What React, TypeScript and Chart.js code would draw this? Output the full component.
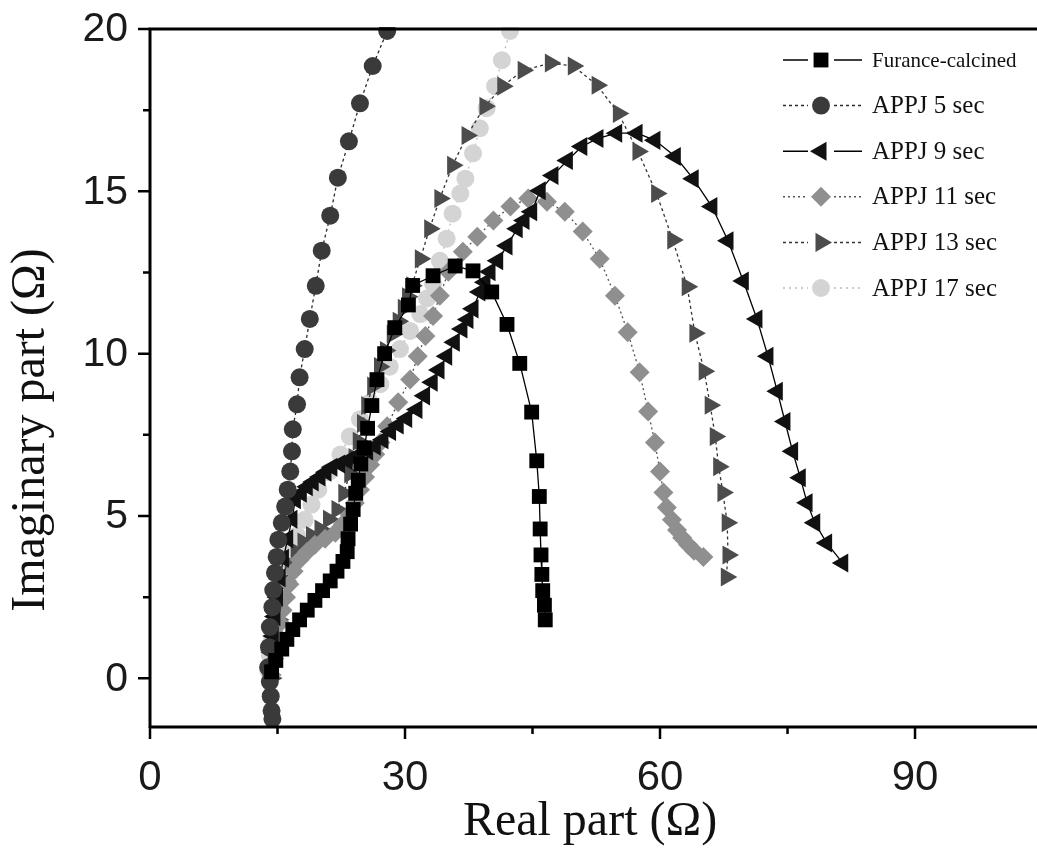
import React, { useEffect, useRef } from 'react';
import { Chart, registerables } from 'chart.js';

Chart.register(...registerables);

const xTickValues = [0, 30, 60, 90];
const xMinorValues = [15, 45, 75];
const yTickValues = [0, 5, 10, 15, 20];
const yMinorValues = [2.5, 7.5, 12.5, 17.5];

const seriesNames = ['Furance-calcined', 'APPJ 5 sec', 'APPJ 9 sec', 'APPJ 11 sec', 'APPJ 13 sec', 'APPJ 17 sec'];
const xTitle = 'Real part (Ω)';
const yTitle = 'Imaginary part (Ω)';

const furnaceRe = [14.3, 14.8, 15.5, 16.1, 16.8, 17.6, 18.5, 19.4, 20.3, 21.2, 22.0, 22.7, 23.2, 23.3, 23.6, 23.9, 24.2, 24.5, 24.8, 25.2, 25.6, 26.1, 26.7, 27.6, 28.8, 30.4, 30.9, 33.3, 35.9, 38.0, 40.2, 42.0, 43.5, 44.9, 45.5, 45.8, 45.9, 46.0, 46.1, 46.2, 46.4, 46.5];
const furnaceIm = [0.2, 0.55, 0.9, 1.2, 1.5, 1.8, 2.1, 2.4, 2.7, 3.0, 3.3, 3.6, 3.9, 4.3, 4.75, 5.2, 5.7, 6.1, 6.6, 7.1, 7.7, 8.4, 9.2, 10.0, 10.8, 11.5, 12.1, 12.4, 12.7, 12.55, 11.9, 10.9, 9.7, 8.2, 6.7, 5.6, 4.6, 3.8, 3.2, 2.7, 2.25, 1.8];

const appj5Re = [14.4, 14.3, 14.2, 14.1, 13.9, 14.0, 14.1, 14.4, 14.5, 14.7, 14.9, 15.1, 15.5, 15.9, 16.2, 16.5, 16.7, 16.8, 17.3, 17.6, 18.2, 18.8, 19.5, 20.2, 21.2, 22.1, 23.4, 24.7, 26.2, 27.9, 29.6];
const appj5Im = [-1.25, -1.0, -0.55, -0.1, 0.34, 0.96, 1.58, 2.19, 2.72, 3.25, 3.74, 4.27, 4.79, 5.29, 5.81, 6.37, 6.99, 7.67, 8.44, 9.27, 10.14, 11.07, 12.09, 13.17, 14.25, 15.42, 16.54, 17.71, 18.86, 19.94, 21.0];

const appj9Re = [14.2, 14.3, 14.5, 14.7, 15.0, 15.3, 15.7, 16.2, 16.7, 17.1, 17.8, 18.5, 19.2, 20.0, 20.7, 21.4, 22.3, 23.2, 24.0, 24.7, 25.6, 26.5, 27.4, 28.3, 29.2, 30.2, 31.4, 32.3, 33.2, 34.0, 34.9, 35.8, 36.7, 37.4, 38.0, 38.8, 39.4, 40.0, 40.9, 42.0, 43.2, 44.0, 44.9, 45.9, 47.4, 49.1, 50.8, 52.7, 54.9, 57.3, 59.4, 61.8, 63.9, 66.1, 68.0, 69.8, 71.4, 72.7, 73.8, 74.7, 75.6, 76.5, 77.3, 78.2, 79.6, 81.5];
const appj9Im = [0.3, 0.8, 1.3, 1.9, 2.5, 3.1, 3.7, 4.3, 4.9, 5.5, 5.7, 5.9, 6.05, 6.2, 6.35, 6.5, 6.6, 6.7, 6.8, 6.9, 7.0, 7.15, 7.35, 7.6, 7.8, 8.0, 8.28, 8.7, 9.12, 9.5, 9.92, 10.35, 10.76, 11.05, 11.38, 11.9, 12.2, 12.52, 12.86, 13.32, 13.85, 14.1, 14.37, 15.02, 15.49, 15.95, 16.38, 16.63, 16.79, 16.79, 16.57, 16.07, 15.39, 14.53, 13.48, 12.24, 11.07, 9.92, 8.84, 7.91, 6.99, 6.18, 5.41, 4.79, 4.17, 3.55];

const appj11Re = [14.3, 14.5, 14.7, 15.0, 15.3, 15.6, 16.0, 16.4, 16.9, 17.6, 18.5, 19.4, 20.6, 21.8, 22.7, 23.5, 24.1, 24.7, 25.3, 25.9, 26.5, 27.1, 27.9, 29.2, 30.6, 31.5, 32.4, 33.3, 34.1, 35.1, 36.8, 38.5, 40.4, 42.4, 44.5, 46.7, 48.8, 50.9, 52.9, 54.7, 56.2, 57.6, 58.6, 59.4, 60.0, 60.4, 60.8, 61.4, 62.0, 62.6, 63.3, 64.0, 65.1];
const appj11Im = [0.1, 0.5, 0.9, 1.3, 1.7, 2.1, 2.5, 2.9, 3.3, 3.65, 3.9, 4.11, 4.3, 4.48, 4.75, 5.04, 5.4, 5.81, 6.2, 6.58, 6.9, 7.26, 7.76, 8.5, 9.2, 9.92, 10.54, 11.16, 11.78, 12.52, 13.14, 13.6, 14.1, 14.53, 14.78, 14.68, 14.37, 13.76, 12.92, 11.78, 10.66, 9.43, 8.22, 7.26, 6.37, 5.72, 5.26, 4.88, 4.57, 4.33, 4.11, 3.93, 3.74];

const appj13Re = [14.3, 14.5, 14.8, 15.1, 15.5, 16.0, 16.5, 17.2, 18.0, 19.0, 20.0, 21.0, 22.0, 22.8, 23.5, 24.0, 24.5, 25.0, 25.5, 26.2, 27.0, 27.7, 28.5, 29.2, 29.8, 30.3, 30.8, 31.8, 32.9, 34.1, 35.6, 37.3, 39.4, 41.5, 43.9, 47.1, 49.8, 52.6, 55.1, 57.4, 59.6, 61.5, 63.2, 64.1, 65.2, 65.9, 66.5, 66.9, 67.4, 67.9, 68.0, 67.8];
const appj13Im = [0.0, 0.6, 1.2, 1.8, 2.5, 3.0, 3.5, 3.9, 4.2, 4.4, 4.6, 4.9, 5.2, 5.7, 6.3, 6.8, 7.3, 7.85, 8.4, 9.0, 9.6, 10.1, 10.6, 11.0, 11.4, 11.75, 12.09, 12.92, 13.85, 14.78, 15.8, 16.72, 17.62, 18.24, 18.73, 18.95, 18.86, 18.27, 17.4, 16.23, 14.93, 13.5, 12.06, 10.63, 9.46, 8.41, 7.45, 6.52, 5.72, 4.79, 3.8, 3.12];

const appj17Re = [13.9, 14.1, 14.35, 14.5, 14.7, 15.0, 15.3, 15.8, 16.5, 17.3, 18.2, 19.0, 19.8, 21.0, 22.4, 23.5, 24.7, 25.9, 27.1, 28.2, 29.4, 30.6, 31.8, 32.6, 33.3, 34.1, 34.9, 35.6, 36.5, 37.1, 38.0, 38.8, 39.6, 40.6, 41.4, 42.35, 43.1];
const appj17Im = [0.25, 0.7, 1.17, 1.6, 2.1, 2.55, 3.03, 3.5, 3.96, 4.4, 4.88, 5.35, 5.81, 6.35, 6.89, 7.45, 7.98, 8.5, 9.06, 9.6, 10.14, 10.7, 11.22, 11.7, 12.15, 12.86, 13.54, 14.31, 14.93, 15.39, 16.17, 16.94, 17.56, 18.24, 19.04, 19.94, 20.65];

const seriesRe = [furnaceRe, appj5Re, appj9Re, appj11Re, appj13Re, appj17Re];
const seriesIm = [furnaceIm, appj5Im, appj9Im, appj11Im, appj13Im, appj17Im];

const styles = [
  { shape: 'rect', rot: 0, r: 10.5, fill: '#000000', line: '#000000', dash: [] as number[] },
  { shape: 'circle', rot: 0, r: 9, fill: '#3a3a3a', line: '#2a2a2a', dash: [3, 3] },
  { shape: 'triangle', rot: -90, r: 11, fill: '#111111', line: '#000000', dash: [] as number[] },
  { shape: 'rectRot', rot: 0, r: 10, fill: '#8f8f8f', line: '#555555', dash: [2, 3] },
  { shape: 'triangle', rot: 90, r: 11, fill: '#4c4c4c', line: '#333333', dash: [3, 3] },
  { shape: 'circle', rot: 0, r: 9, fill: '#d4d4d4', line: '#bbbbbb', dash: [2, 4] },
];

function drawMarker(ctx: CanvasRenderingContext2D, shape: string, rot: number, r: number, x: number, y: number) {
  ctx.beginPath();
  let rad = (rot * Math.PI) / 180;
  if (shape === 'circle') {
    ctx.arc(x, y, r, 0, Math.PI * 2);
  } else if (shape === 'rect') {
    const s = Math.SQRT1_2 * r;
    ctx.rect(x - s, y - s, 2 * s, 2 * s);
  } else if (shape === 'rectRot') {
    ctx.moveTo(x - r, y);
    ctx.lineTo(x, y - r);
    ctx.lineTo(x + r, y);
    ctx.lineTo(x, y + r);
    ctx.closePath();
  } else if (shape === 'triangle') {
    ctx.moveTo(x + Math.sin(rad) * r, y - Math.cos(rad) * r);
    rad += (2 * Math.PI) / 3;
    ctx.lineTo(x + Math.sin(rad) * r, y - Math.cos(rad) * r);
    rad += (2 * Math.PI) / 3;
    ctx.lineTo(x + Math.sin(rad) * r, y - Math.cos(rad) * r);
    ctx.closePath();
  }
  ctx.fill();
}

const decorPlugin = {
  id: 'decor',
  afterDraw(chart: any) {
    const { ctx, chartArea } = chart;
    const xs = chart.scales.x;
    const ys = chart.scales.y;
    ctx.save();
    ctx.strokeStyle = '#000';
    ctx.lineWidth = 3;
    ctx.setLineDash([]);
    ctx.beginPath();
    ctx.moveTo(chartArea.left, chartArea.bottom + 1);
    ctx.lineTo(chartArea.left, chartArea.top);
    ctx.lineTo(chartArea.right, chartArea.top);
    ctx.moveTo(chartArea.left - 1, chartArea.bottom);
    ctx.lineTo(chartArea.right, chartArea.bottom);
    ctx.stroke();

    ctx.lineWidth = 2.5;
    ctx.beginPath();
    xTickValues.forEach((v) => {
      const p = xs.getPixelForValue(v);
      ctx.moveTo(p, chartArea.bottom);
      ctx.lineTo(p, chartArea.bottom + 12);
    });
    xMinorValues.forEach((v) => {
      const p = xs.getPixelForValue(v);
      ctx.moveTo(p, chartArea.bottom);
      ctx.lineTo(p, chartArea.bottom + 7);
    });
    yTickValues.forEach((v) => {
      const p = ys.getPixelForValue(v);
      ctx.moveTo(chartArea.left, p);
      ctx.lineTo(chartArea.left - 12, p);
    });
    yMinorValues.forEach((v) => {
      const p = ys.getPixelForValue(v);
      ctx.moveTo(chartArea.left, p);
      ctx.lineTo(chartArea.left - 7, p);
    });
    ctx.stroke();

    // tick labels
    ctx.fillStyle = '#1a1a1a';
    ctx.font = '41px "Liberation Sans"';
    ctx.textAlign = 'right';
    ctx.textBaseline = 'middle';
    yTickValues.forEach((v) => {
      ctx.fillText(String(v), chartArea.left - 22, ys.getPixelForValue(v) + 1);
    });
    ctx.font = '42px "Liberation Sans"';
    ctx.textAlign = 'center';
    ctx.textBaseline = 'alphabetic';
    xTickValues.forEach((v) => {
      ctx.fillText(String(v), xs.getPixelForValue(v), chartArea.bottom + 63);
    });

    // axis titles
    ctx.fillStyle = '#111';
    ctx.font = '48px "Liberation Serif"';
    ctx.textAlign = 'center';
    ctx.textBaseline = 'middle';
    ctx.fillText(xTitle, 590, 822);
    ctx.save();
    ctx.translate(31, 430);
    ctx.rotate(-Math.PI / 2);
    ctx.fillText(yTitle, 0, 0);
    ctx.restore();

    // legend
    seriesNames.forEach((name, i) => {
      const st = styles[i];
      const y = 60 + i * 45.6;
      ctx.strokeStyle = st.line;
      ctx.lineWidth = 1.5;
      ctx.setLineDash(st.dash);
      ctx.beginPath();
      ctx.moveTo(783, y);
      ctx.lineTo(808, y);
      ctx.moveTo(834, y);
      ctx.lineTo(862, y);
      ctx.stroke();
      ctx.setLineDash([]);
      ctx.fillStyle = st.fill;
      drawMarker(ctx, st.shape, st.rot, st.r, 821, y);
      ctx.fillStyle = '#111';
      ctx.textAlign = 'left';
      ctx.textBaseline = 'middle';
      ctx.font = i === 0 ? '21px "Liberation Serif"' : '25px "Liberation Serif"';
      ctx.fillText(name, 872, y + 1);
    });
    ctx.restore();
  },
};

export default function App() {
  const canvasRef = useRef<HTMLCanvasElement | null>(null);

  useEffect(() => {
    const canvas = canvasRef.current;
    if (!canvas) return;
    const datasets = seriesNames.map((name, i) => {
      const st = styles[i];
      return {
        label: name,
        data: seriesRe[i].map((x, k) => ({ x, y: seriesIm[i][k] })),
        showLine: true,
        borderColor: st.line,
        borderWidth: 1.3,
        borderDash: st.dash,
        backgroundColor: st.fill,
        pointStyle: st.shape,
        pointRotation: st.rot,
        pointRadius: st.r,
        pointBackgroundColor: st.fill,
        pointBorderWidth: 0,
        pointBorderColor: st.fill,
        clip: 2,
      };
    });
    const chart = new Chart(canvas, {
      type: 'scatter',
      data: { datasets },
      options: {
        responsive: false,
        animation: false,
        layout: { autoPadding: false, padding: { top: 29, right: 0, left: 0, bottom: 0 } },
        plugins: { legend: { display: false }, tooltip: { enabled: false } },
        scales: {
          x: {
            type: 'linear',
            min: 0,
            max: 104.35,
            border: { display: false },
            grid: { display: false, drawTicks: false },
            ticks: { display: false },
            afterFit: (scale: any) => {
              scale.height = 121;
              scale.paddingLeft = 0;
              scale.paddingRight = 0;
            },
          },
          y: {
            type: 'linear',
            min: -1.5,
            max: 20,
            border: { display: false },
            grid: { display: false, drawTicks: false },
            ticks: { display: false },
            afterFit: (scale: any) => {
              scale.width = 150;
              scale.paddingTop = 0;
              scale.paddingBottom = 0;
            },
          },
        },
      },
      plugins: [decorPlugin],
    } as any);
    return () => chart.destroy();
  }, []);

  return (
    <div style={{ position: 'fixed', left: 0, top: 0, width: 1037, height: 848, background: '#fff' }}>
      <canvas ref={canvasRef} width={1037} height={848} style={{ display: 'block' }} />
    </div>
  );
}
